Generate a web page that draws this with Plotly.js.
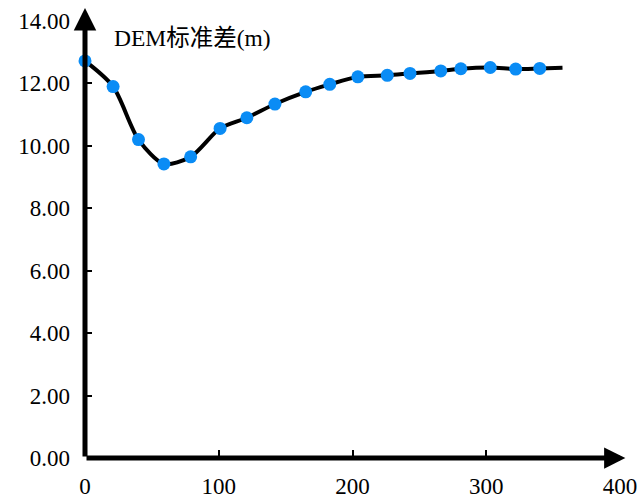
<!DOCTYPE html>
<html>
<head>
<meta charset="utf-8">
<script src="https://cdn.plot.ly/plotly-3.0.1.min.js"></script>
<style>html,body{margin:0;padding:0;background:#fff}#chart{width:639px;height:501px}</style>
</head>
<body>
<div id="chart"></div>
<script>
// Aspect (degrees) and DEM standard deviation (m)
const aspect = [0, 21, 40, 59, 79, 101, 121, 142, 165, 183, 204, 226, 243, 266, 281, 303, 322, 340];
const demStd = [12.72, 11.90, 10.20, 9.42, 9.65, 10.56, 10.90, 11.34, 11.73, 11.97, 12.21, 12.26, 12.32, 12.40, 12.47, 12.51, 12.46, 12.48];
// curve continues past the last marker
const curveEndX = [357];
const curveEndY = [12.50];

const xTicks = [0, 100, 200, 300, 400];
const yTicks = [0, 2, 4, 6, 8, 10, 12, 14];
const yTickText = yTicks.map(v => v.toFixed(2));

const serif = "'Liberation Serif', 'Noto Sans CJK SC', serif";

const traces = [
  {
    x: aspect.concat(curveEndX),
    y: demStd.concat(curveEndY),
    mode: 'lines',
    line: {color: '#000000', width: 4, shape: 'spline', smoothing: 0.8},
    hoverinfo: 'skip',
    showlegend: false,
    cliponaxis: false
  },
  {
    x: aspect,
    y: demStd,
    mode: 'markers',
    marker: {color: '#0A8CF5', size: 13},
    showlegend: false,
    cliponaxis: false
  }
];

const layout = {
  width: 639,
  height: 501,
  margin: {l: 85, r: 19, t: 21, b: 43},
  paper_bgcolor: '#ffffff',
  plot_bgcolor: '#ffffff',
  font: {family: serif, size: 23, color: '#000'},
  xaxis: {
    range: [0, 400],
    tickmode: 'array',
    tickvals: xTicks,
    ticktext: xTicks.map(String),
    ticks: 'inside',
    ticklen: 8,
    tickwidth: 2,
    tickcolor: '#000',
    showgrid: false,
    zeroline: false,
    showline: false,
    ticklabelstandoff: 12,
    tickfont: {family: serif, size: 23, color: '#000'}
  },
  yaxis: {
    range: [0, 14],
    tickmode: 'array',
    tickvals: yTicks,
    ticktext: yTickText,
    ticks: 'inside',
    ticklen: 7,
    tickwidth: 2,
    tickcolor: '#000',
    showgrid: false,
    zeroline: false,
    showline: false,
    ticklabelstandoff: 14,
    tickfont: {family: serif, size: 23, color: '#000'}
  },
  annotations: [
    {
      xref: 'x', yref: 'y', axref: 'x', ayref: 'y',
      x: 0, y: 14.42, ax: 0, ay: 0,
      showarrow: true, arrowhead: 2, arrowsize: 0.9, arrowwidth: 5, arrowcolor: '#000', text: ''
    },
    {
      xref: 'x', yref: 'y', axref: 'x', ayref: 'y',
      x: 404, y: 0, ax: 0, ay: 0,
      showarrow: true, arrowhead: 2, arrowsize: 0.85, arrowwidth: 5, arrowcolor: '#000', text: ''
    },
    {
      xref: 'x', yref: 'y', x: 20, y: 13.45, xanchor: 'left', yanchor: 'middle',
      text: 'DEM标准差(m)', showarrow: false,
      font: {family: serif, size: 23.5, color: '#000'}
    },
    {
      xref: 'x', yref: 'y', x: 409, y: 1.55, xanchor: 'right', yanchor: 'middle',
      text: '坡向(°)', showarrow: false,
      font: {family: serif, size: 23, color: '#000'}
    }
  ]
};

Plotly.newPlot('chart', traces, layout, {displayModeBar: false, staticPlot: true});
</script>
</body>
</html>
